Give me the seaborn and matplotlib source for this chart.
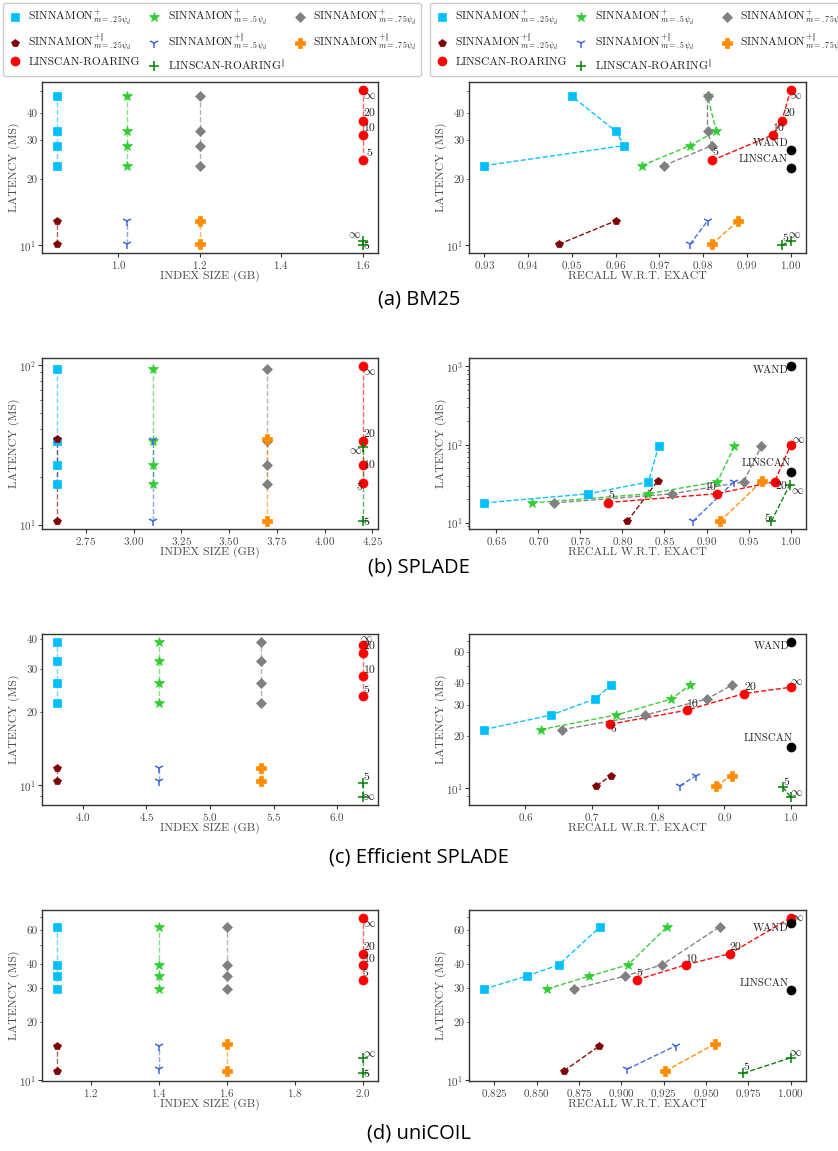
import math
import numpy as np
import pandas as pd
import matplotlib
matplotlib.use("Agg")
import matplotlib.pyplot as plt
import seaborn as sns
from matplotlib.lines import Line2D
from matplotlib.ticker import FuncFormatter, NullFormatter, LogFormatterSciNotation, MultipleLocator

# ---------------------------------------------------------------- data
# index size (GB): Sinnamon m=.25, m=.5, m=.75, LinScan-Roaring
bm25_size = [0.85, 1.02, 1.20, 1.60]
bm25_s25_lat = [23.0, 28.4, 33.0, 47.6]
bm25_s25_rec = [0.930, 0.962, 0.960, 0.950]
bm25_s5_lat = [23.0, 28.4, 33.0, 47.6]
bm25_s5_rec = [0.966, 0.977, 0.983, 0.981]
bm25_s75_lat = [23.0, 28.4, 33.0, 47.6]
bm25_s75_rec = [0.971, 0.982, 0.981, 0.981]
bm25_p25_lat = [10.1, 12.9]
bm25_p25_rec = [0.947, 0.960]
bm25_p5_lat = [10.1, 12.9]
bm25_p5_rec = [0.977, 0.981]
bm25_p75_lat = [10.1, 12.9]
bm25_p75_rec = [0.982, 0.988]
bm25_lr_lat = [24.3, 31.8, 36.9, 50.9]
bm25_lr_rec = [0.982, 0.996, 0.998, 1.000]
bm25_lrp_lat = [10.0, 10.5]
bm25_lrp_rec = [0.998, 1.000]
bm25_wand = [1.0, 27.0]
bm25_linscan = [1.0, 22.4]

splade_size = [2.6, 3.1, 3.7, 4.2]
splade_s25_lat = [18.0, 23.5, 33.3, 95.0]
splade_s25_rec = [0.636, 0.759, 0.831, 0.843]
splade_s5_lat = [18.0, 23.5, 33.6, 95.0]
splade_s5_rec = [0.693, 0.830, 0.913, 0.933]
splade_s75_lat = [18.0, 23.5, 33.6, 95.0]
splade_s75_rec = [0.719, 0.859, 0.944, 0.965]
splade_p25_lat = [10.5, 34.5]
splade_p25_rec = [0.806, 0.842]
splade_p5_lat = [10.5, 33.8]
splade_p5_rec = [0.884, 0.933]
splade_p75_lat = [10.5, 34.3]
splade_p75_rec = [0.916, 0.966]
splade_lr_lat = [18.2, 23.6, 33.6, 99.0]
splade_lr_rec = [0.783, 0.912, 0.981, 1.000]
splade_lrp_lat = [10.5, 30.8]
splade_lrp_rec = [0.977, 0.999]
splade_wand = [1.0, 1019.0]
splade_linscan = [1.0, 44.4]

esplade_size = [3.8, 4.6, 5.4, 6.2]
esplade_s25_lat = [21.7, 26.3, 32.5, 38.9]
esplade_s25_rec = [0.538, 0.639, 0.705, 0.729]
esplade_s5_lat = [21.7, 26.3, 32.5, 38.9]
esplade_s5_rec = [0.623, 0.737, 0.820, 0.848]
esplade_s75_lat = [21.7, 26.3, 32.5, 38.9]
esplade_s75_rec = [0.655, 0.781, 0.874, 0.911]
esplade_p25_lat = [10.35, 11.8]
esplade_p25_rec = [0.707, 0.729]
esplade_p5_lat = [10.35, 11.8]
esplade_p5_rec = [0.833, 0.857]
esplade_p75_lat = [10.35, 11.8]
esplade_p75_rec = [0.887, 0.911]
esplade_lr_lat = [23.3, 28.0, 34.9, 37.9]
esplade_lr_rec = [0.728, 0.843, 0.930, 1.000]
esplade_lrp_lat = [10.2, 8.9]
esplade_lrp_rec = [0.988, 1.000]
esplade_wand = [1.0, 69.0]
esplade_linscan = [1.0, 17.2]

unicoil_size = [1.1, 1.4, 1.6, 2.0]
unicoil_s25_lat = [29.7, 34.6, 39.6, 62.3]
unicoil_s25_rec = [0.819, 0.844, 0.863, 0.8875]
unicoil_s5_lat = [29.7, 34.6, 39.6, 62.3]
unicoil_s5_rec = [0.856, 0.881, 0.904, 0.927]
unicoil_s75_lat = [29.7, 34.6, 39.6, 62.3]
unicoil_s75_rec = [0.872, 0.902, 0.924, 0.958]
unicoil_p25_lat = [11.2, 15.1]
unicoil_p25_rec = [0.866, 0.887]
unicoil_p5_lat = [11.45, 15.1]
unicoil_p5_rec = [0.9035, 0.932]
unicoil_p75_lat = [11.2, 15.4]
unicoil_p75_rec = [0.926, 0.955]
unicoil_lr_lat = [33.1, 39.6, 45.2, 69.3]
unicoil_lr_rec = [0.909, 0.938, 0.964, 1.000]
unicoil_lrp_lat = [10.9, 13.1]
unicoil_lrp_rec = [0.972, 1.000]
unicoil_wand = [1.0, 65.2]
unicoil_linscan = [1.0, 29.2]

lr_labels = ["5", "10", "20", r"$\infty$"]
lrp_labels = ["5", r"$\infty$"]
captions = ["(a) BM25", "(b) SPLADE", "(c) Efficient SPLADE", "(d) uniCOIL"]

# ---------------------------------------------------------------- style
sns.set_style("ticks")
plt.rcParams["font.family"] = ["cmr10", "DejaVu Serif"]
plt.rcParams["mathtext.fontset"] = "cm"
plt.rcParams["axes.formatter.use_mathtext"] = True
plt.rcParams["axes.unicode_minus"] = False
TXT = "#4a4a4a"
for ax_ in ("xtick", "ytick"):
    plt.rcParams[f"{ax_}.color"] = "#333333"
    plt.rcParams[f"{ax_}.labelcolor"] = TXT
    plt.rcParams[f"{ax_}.labelsize"] = 8
    plt.rcParams[f"{ax_}.major.size"] = 3.0
    plt.rcParams[f"{ax_}.minor.size"] = 1.8
    plt.rcParams[f"{ax_}.major.pad"] = 1.2
    plt.rcParams[f"{ax_}.minor.pad"] = 1.2

SERIES = {
    "s25": dict(label=r"SINNAMON${}^{+}_{m=.25\psi_d}$", color="#00BFFF", marker="s", ms=6.0),
    "s5": dict(label=r"SINNAMON${}^{+}_{m=.5\psi_d}$", color="#32CD32", marker="*", ms=7.0),
    "s75": dict(label=r"SINNAMON${}^{+}_{m=.75\psi_d}$", color="#808080", marker="D", ms=5.5),
    "p25": dict(label=r"SINNAMON${}^{+\Vert}_{m=.25\psi_d}$", color="#800000", marker="p", ms=6.0),
    "p5": dict(label=r"SINNAMON${}^{+\Vert}_{m=.5\psi_d}$", color="#4169E1", marker="1", ms=7.0),
    "p75": dict(label=r"SINNAMON${}^{+\Vert}_{m=.75\psi_d}$", color="#FF8C00", marker="P", ms=6.5),
    "lr": dict(label=r"LINSCAN-ROARING", color="#FF0000", marker="o", ms=6.5),
    "lrp": dict(label=r"LINSCAN-ROARING${}^{\Vert}$", color="#008000", marker="+", ms=7.0),
}
ORDER = ["s25", "s5", "s75", "p25", "p5", "p75", "lr", "lrp"]

datasets = [
    dict(size=bm25_size, lat=dict(s25=bm25_s25_lat, s5=bm25_s5_lat, s75=bm25_s75_lat, p25=bm25_p25_lat,
                                  p5=bm25_p5_lat, p75=bm25_p75_lat, lr=bm25_lr_lat, lrp=bm25_lrp_lat),
         rec=dict(s25=bm25_s25_rec, s5=bm25_s5_rec, s75=bm25_s75_rec, p25=bm25_p25_rec,
                  p5=bm25_p5_rec, p75=bm25_p75_rec, lr=bm25_lr_rec, lrp=bm25_lrp_rec),
         wand=bm25_wand, linscan=bm25_linscan, minor=True),
    dict(size=splade_size, lat=dict(s25=splade_s25_lat, s5=splade_s5_lat, s75=splade_s75_lat, p25=splade_p25_lat,
                                    p5=splade_p5_lat, p75=splade_p75_lat, lr=splade_lr_lat, lrp=splade_lrp_lat),
         rec=dict(s25=splade_s25_rec, s5=splade_s5_rec, s75=splade_s75_rec, p25=splade_p25_rec,
                  p5=splade_p5_rec, p75=splade_p75_rec, lr=splade_lr_rec, lrp=splade_lrp_rec),
         wand=splade_wand, linscan=splade_linscan, minor=False),
    dict(size=esplade_size, lat=dict(s25=esplade_s25_lat, s5=esplade_s5_lat, s75=esplade_s75_lat, p25=esplade_p25_lat,
                                     p5=esplade_p5_lat, p75=esplade_p75_lat, lr=esplade_lr_lat, lrp=esplade_lrp_lat),
         rec=dict(s25=esplade_s25_rec, s5=esplade_s5_rec, s75=esplade_s75_rec, p25=esplade_p25_rec,
                  p5=esplade_p5_rec, p75=esplade_p75_rec, lr=esplade_lr_rec, lrp=esplade_lrp_rec),
         wand=esplade_wand, linscan=esplade_linscan, minor=True),
    dict(size=unicoil_size, lat=dict(s25=unicoil_s25_lat, s5=unicoil_s5_lat, s75=unicoil_s75_lat, p25=unicoil_p25_lat,
                                     p5=unicoil_p5_lat, p75=unicoil_p75_lat, lr=unicoil_lr_lat, lrp=unicoil_lrp_lat),
         rec=dict(s25=unicoil_s25_rec, s5=unicoil_s5_rec, s75=unicoil_s75_rec, p25=unicoil_p25_rec,
                  p5=unicoil_p5_rec, p75=unicoil_p75_rec, lr=unicoil_lr_rec, lrp=unicoil_lrp_rec),
         wand=unicoil_wand, linscan=unicoil_linscan, minor=True),
]
SIZE_IDX = dict(s25=0, s5=1, s75=2, p25=0, p5=1, p75=2, lr=3, lrp=3)
XSTEP_L = [0.2, 0.25, 0.5, 0.2]
XSTEP_R = [0.01, 0.05, 0.1, 0.025]

# label offsets (pixels, label centre relative to point)
OFFS_L = [
    dict(lr=[(7, 7), (7, 6), (7, 7), (7, -6)], lrp=[(4, -1), (-8, 6)]),
    dict(lr=[(-3, -4), (7, 0), (7, 6), (7, -6)], lrp=[(4, -1), (-7, -4)]),
    dict(lr=[(4, 6), (7, 6), (7, 7), (4, 6)], lrp=[(4, 6), (6, 0)]),
    dict(lr=[(3, 7), (7, 6), (7, 6), (7, -6)], lrp=[(4, -1), (7, 4)]),
]
OFFS_R = [
    dict(lr=[(3, 8), (6, 6), (7, 7), (5, -6)], lrp=[(3, 7), (4, 6)], wand=(-2, 7), lin=(-3, 9)),
    dict(lr=[(3, 7), (-6, 6), (7, -5), (8, 5)], lrp=[(-4, 3), (8, -6)], wand=(-2, -4), lin=(0, 9)),
    dict(lr=[(3, -5), (6, 6), (6, 6), (6, 5)], lrp=[(4, 5), (6, 4)], wand=(-1, -4), lin=(2, 9)),
    dict(lr=[(3, 7), (6, 6), (6, 6), (7, 0)], lrp=[(3, 6), (5, 5)], wand=(-2, -5), lin=(-2, 7)),
]

W, H = 838, 1151
fig = plt.figure(figsize=(W / 100, H / 100), dpi=100)
row_top = [82, 358, 634, 910]
row_h = 171
cap_y = [300, 567, 857, 1133]


def minor_fmt(v, pos):
    if v <= 0:
        return ""
    e = math.floor(math.log10(v) + 1e-9)
    c = v / 10 ** e
    if abs(c - round(c)) < 1e-6 and round(c) in (2, 3, 4, 6):
        return f"{v:g}"
    return ""


def draw_series(ax, xs, ys, key, line_alpha):
    st = SERIES[key]
    df = pd.DataFrame({"x": xs, "y": ys})
    sns.lineplot(data=df, x="x", y="y", ax=ax, sort=False, estimator=None, color=st["color"],
                 linestyle="--", linewidth=1.0, alpha=line_alpha, zorder=2)
    filled = st["marker"] not in ("1", "+")
    sns.lineplot(data=df, x="x", y="y", ax=ax, sort=False, estimator=None, color=st["color"],
                 linestyle="", marker=st["marker"], markersize=st["ms"],
                 markeredgecolor=st["color"], markeredgewidth=0.5 if filled else 1.1, zorder=3)


def label_points(ax, xs, ys, labels, offs):
    for x, y, t, (dx, dy) in zip(xs, ys, labels, offs):
        ax.annotate(t, (x, y), xytext=(dx, dy), textcoords="offset pixels", ha="center", va="center",
                    fontsize=8.5, color="#222222", zorder=5)


def style_axis(ax, minor, xlabel, xstep):
    ax.set_yscale("log")
    ax.yaxis.set_major_formatter(LogFormatterSciNotation())
    ax.yaxis.set_minor_formatter(FuncFormatter(minor_fmt) if minor else NullFormatter())
    ax.xaxis.set_major_locator(MultipleLocator(xstep))
    ax.set_xlabel(xlabel, fontsize=8.5, color=TXT)
    ax.set_ylabel("LATENCY (MS)", fontsize=8.5, color=TXT)
    ax.xaxis.set_label_coords(0.5, -18 / row_h)
    ax.yaxis.set_label_coords(-22 / 336, 0.5)
    for s in ax.spines.values():
        s.set_color("#333333")
        s.set_linewidth(1.0)


for i, d in enumerate(datasets):
    bottom = 1 - (row_top[i] + row_h) / H
    axL = fig.add_axes([42 / W, bottom, 336 / W, row_h / H])
    axR = fig.add_axes([469 / W, bottom, 337 / W, row_h / H])
    axL.set_yscale("log")
    axR.set_yscale("log")
    for key in ORDER:
        ys = d["lat"][key]
        xs_size = [d["size"][SIZE_IDX[key]]] * len(ys)
        draw_series(axL, xs_size, ys, key, 0.6)
        draw_series(axR, d["rec"][key], ys, key, 0.95)
    # exact baselines
    for pt in (d["wand"], d["linscan"]):
        sns.lineplot(x=[pt[0]], y=[pt[1]], ax=axR, estimator=None, color="black", linestyle="",
                     marker="o", markersize=6.5, markeredgecolor="black", markeredgewidth=0.5, zorder=4)
    # annotations
    label_points(axL, [d["size"][3]] * 4, d["lat"]["lr"], lr_labels, OFFS_L[i]["lr"])
    label_points(axL, [d["size"][3]] * 2, d["lat"]["lrp"], lrp_labels, OFFS_L[i]["lrp"])
    label_points(axR, d["rec"]["lr"], d["lat"]["lr"], lr_labels, OFFS_R[i]["lr"])
    label_points(axR, d["rec"]["lrp"], d["lat"]["lrp"], lrp_labels, OFFS_R[i]["lrp"])
    o = OFFS_R[i]
    axR.annotate("WAND", tuple(d["wand"]), xytext=o["wand"], textcoords="offset pixels",
                 ha="right", va="center", fontsize=7.8, color="#222222", zorder=5)
    axR.annotate("LINSCAN", tuple(d["linscan"]), xytext=o["lin"], textcoords="offset pixels",
                 ha="right", va="center", fontsize=7.8, color="#222222", zorder=5)
    style_axis(axL, d["minor"], "INDEX SIZE (GB)", XSTEP_L[i])
    style_axis(axR, d["minor"], "RECALL W.R.T. EXACT", XSTEP_R[i])
    fig.text(0.5, 1 - cap_y[i] / H, captions[i], ha="center", va="center",
             fontsize=14.5, family=["Open Sans", "DejaVu Sans"], color="black")

# legends
leg_order = ["s25", "p25", "lr", "s5", "p5", "lrp", "s75", "p75"]
handles = []
for k in leg_order:
    st = SERIES[k]
    filled = st["marker"] not in ("1", "+")
    handles.append(Line2D([], [], linestyle="", marker=st["marker"], markersize=st["ms"],
                          color=st["color"], markeredgecolor=st["color"],
                          markeredgewidth=0.5 if filled else 1.1))
labels = [SERIES[k]["label"] for k in leg_order]
for x0 in (3, 430):
    leg = fig.legend(handles=handles, labels=labels, loc="upper left",
                     bbox_to_anchor=(x0 / W, 1 - 3 / H), borderaxespad=0.0, ncol=3, fontsize=8.3,
                     frameon=True, fancybox=True, framealpha=1.0, edgecolor="#cccccc",
                     handlelength=1.3, handletextpad=0.5, columnspacing=0.6,
                     labelspacing=0.28, borderpad=0.4)
    for t in leg.get_texts():
        t.set_color("#222222")

fig.savefig("out.png", dpi=100)
